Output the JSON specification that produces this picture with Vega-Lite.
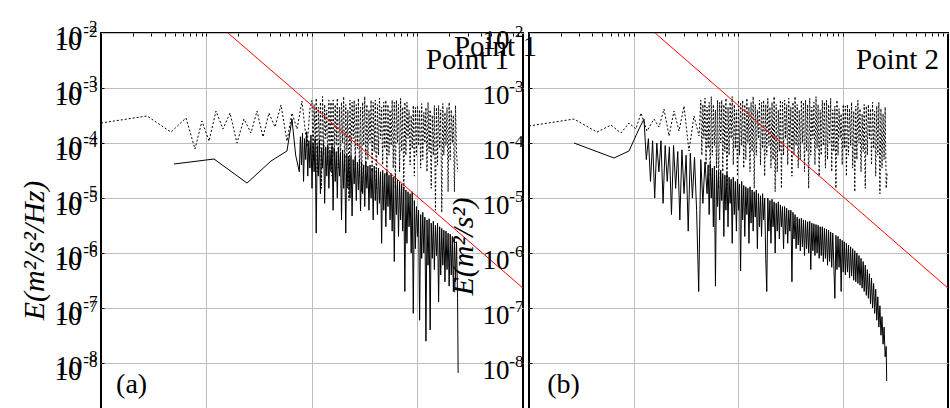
{
 "$schema": "https://vega.github.io/schema/vega-lite/v6.json",
 "background": "white",
 "padding": {"left": 18, "top": 16, "right": 0, "bottom": 0},
 "spacing": 6,
 "bounds": "flush",
 "config": {
  "font": "Liberation Serif",
  "view": {"stroke": "black", "strokeWidth": 2},
  "axis": {"gridColor": "#bdbdbd", "gridOpacity": 1, "gridWidth": 1, "domain": false, "ticks": false, "tickColor": "black", "labelColor": "black", "titleColor": "black", "labelFont": "Liberation Serif", "titleFont": "Liberation Serif", "labelFlush": false, "labelOverlap": false}
 },
 "datasets": {
  "p1d": [
   {"f":0.01,"E":2.31e-4},{"f":0.0273,"E":3.10e-4},{"f":0.0461,"E":1.58e-4},{"f":0.0639,"E":2.85e-4},{"f":0.0778,"E":7.78e-5},
   {"f":0.0906,"E":2.51e-4},{"f":0.1057,"E":1.08e-4},{"f":0.123,"E":3.82e-4},{"f":0.1433,"E":1.80e-4},{"f":0.1671,"E":3.51e-4},
   {"f":0.1945,"E":1.0e-4},{"f":0.2266,"E":2.73e-4},{"f":0.2641,"E":1.52e-4},{"f":0.3011,"E":3.82e-4},{"f":0.3433,"E":1.29e-4},
   {"f":0.3908,"E":3.51e-4},{"f":0.4457,"E":1.95e-4},{"f":0.5082,"E":4.91e-4},{"f":0.5794,"E":1.08e-4},{"f":0.6457,"E":3.51e-4},
   {"f":0.7211,"E":1.80e-4},{"f":0.8035,"E":5.81e-4},{"f":0.8974,"E":8.46e-5},{"f":0.955,"E":4.15e-4},
   {"f":1.000,"E":6e-4},{"f":1.023,"E":5e-5},{"f":1.047,"E":5e-4},{"f":1.072,"E":1e-4},{"f":1.096,"E":6.5e-4},{"f":1.122,"E":3e-5},
   {"f":1.148,"E":4.5e-4},{"f":1.175,"E":7e-5},{"f":1.202,"E":5.5e-4},{"f":1.230,"E":1.5e-5},{"f":1.259,"E":7e-4},{"f":1.288,"E":6e-5},
   {"f":1.318,"E":5e-4},{"f":1.349,"E":1.2e-4},{"f":1.380,"E":4e-4},{"f":1.413,"E":4e-5},{"f":1.445,"E":6e-4},{"f":1.479,"E":8e-5},
   {"f":1.514,"E":5.5e-4},{"f":1.549,"E":2.5e-5},{"f":1.585,"E":6e-4},{"f":1.622,"E":6e-5},{"f":1.660,"E":5e-4},{"f":1.698,"E":9e-5},
   {"f":1.738,"E":6.5e-4},{"f":1.778,"E":3.5e-5},{"f":1.820,"E":4.5e-4},{"f":1.862,"E":5e-5},{"f":1.905,"E":5.5e-4},{"f":1.950,"E":1e-4},
   {"f":1.995,"E":7e-4},{"f":2.042,"E":3e-5},{"f":2.089,"E":5e-4},{"f":2.138,"E":7e-5},{"f":2.188,"E":4e-4},{"f":2.239,"E":9e-6},
   {"f":2.291,"E":6e-4},{"f":2.344,"E":6e-5},{"f":2.399,"E":5.5e-4},{"f":2.455,"E":1.2e-4},{"f":2.512,"E":6e-4},{"f":2.570,"E":4e-5},
   {"f":2.630,"E":5e-4},{"f":2.692,"E":8e-5},{"f":2.754,"E":6.5e-4},{"f":2.818,"E":2.5e-5},{"f":2.884,"E":4.5e-4},{"f":2.951,"E":1.3e-5},
   {"f":3.020,"E":5.5e-4},{"f":3.090,"E":9e-5},{"f":3.162,"E":7e-4},{"f":3.236,"E":3.5e-5},{"f":3.311,"E":5e-4},{"f":3.388,"E":5e-5},
   {"f":3.467,"E":4e-4},{"f":3.548,"E":1e-4},{"f":3.631,"E":6e-4},{"f":3.715,"E":3e-5},{"f":3.802,"E":5.5e-4},{"f":3.890,"E":7e-5},
   {"f":3.981,"E":6e-4},{"f":4.074,"E":1.5e-5},{"f":4.169,"E":5e-4},{"f":4.266,"E":6e-5},{"f":4.365,"E":6.5e-4},{"f":4.467,"E":1.2e-4},
   {"f":4.571,"E":4.5e-4},{"f":4.677,"E":4e-5},{"f":4.786,"E":5.5e-4},{"f":4.898,"E":8e-5},{"f":5.012,"E":6e-4},{"f":5.129,"E":2.5e-5},
   {"f":5.248,"E":5e-4},{"f":5.370,"E":6e-5},{"f":5.495,"E":4e-4},{"f":5.623,"E":9e-5},{"f":5.754,"E":6e-4},{"f":5.888,"E":3.5e-5},
   {"f":6.026,"E":5.5e-4},{"f":6.166,"E":1.5e-5},{"f":6.310,"E":6e-4},{"f":6.457,"E":1e-4},{"f":6.607,"E":5e-4},{"f":6.761,"E":3e-5},
   {"f":6.918,"E":6.5e-4},{"f":7.079,"E":7e-5},{"f":7.244,"E":4.5e-4},{"f":7.413,"E":1.5e-5},{"f":7.586,"E":5.5e-4},{"f":7.762,"E":6e-5},
   {"f":7.943,"E":5.5e-4},{"f":8.128,"E":1.2e-4},{"f":8.318,"E":4e-4},{"f":8.511,"E":4e-5},{"f":8.710,"E":3.2e-4},{"f":8.913,"E":8e-5},
   {"f":9.120,"E":4.8e-4},{"f":9.333,"E":2.5e-5},{"f":9.550,"E":4.4e-4},{"f":9.772,"E":6e-5},{"f":10.00,"E":4.8e-4},{"f":10.23,"E":9e-5},
   {"f":10.47,"E":4e-4},{"f":10.72,"E":3.5e-5},{"f":10.96,"E":5.2e-4},{"f":11.22,"E":5e-5},{"f":11.48,"E":3.6e-4},{"f":11.75,"E":1e-4},
   {"f":12.02,"E":4.4e-4},{"f":12.30,"E":3e-5},{"f":12.59,"E":5.5e-4},{"f":12.88,"E":7e-5},{"f":13.18,"E":4e-4},{"f":13.49,"E":1.5e-5},
   {"f":13.80,"E":3.2e-4},{"f":14.13,"E":6e-5},{"f":14.45,"E":4.8e-4},{"f":14.79,"E":6e-6},{"f":15.14,"E":4.4e-4},{"f":15.49,"E":4e-5},
   {"f":15.85,"E":4.8e-4},{"f":16.22,"E":8e-5},{"f":16.60,"E":4e-4},{"f":16.98,"E":5.5e-6},{"f":17.38,"E":5.2e-4},{"f":17.78,"E":6e-5},
   {"f":18.20,"E":3.6e-4},{"f":18.62,"E":9e-5},{"f":19.05,"E":4.4e-4},{"f":19.50,"E":1.3e-5},{"f":19.95,"E":5.5e-4},{"f":20.42,"E":5e-5},
   {"f":20.89,"E":4e-4},{"f":21.38,"E":1e-4},{"f":21.88,"E":3.2e-4},{"f":22.39,"E":1.3e-5},{"f":22.91,"E":4.8e-4},{"f":23.44,"E":7e-5},
   {"f":23.99,"E":3e-5}
  ],
  "p1s": [
   {"f":0.0492,"E":4.15e-5},{"f":0.1178,"E":5.12e-5},{"f":0.2421,"E":1.87e-5},{"f":0.4087,"E":4.71e-5},{"f":0.5794,"E":7.16e-5},
   {"f":0.6457,"E":2.73e-4},{"f":0.700,"E":6e-5},
   {"f":0.7586,"E":3e-5},{"f":0.7762,"E":1.3e-4},{"f":0.7943,"E":4e-5},{"f":0.8128,"E":1.5e-4},{"f":0.8318,"E":2e-5},{"f":0.8511,"E":1.2e-4},
   {"f":0.8710,"E":5e-5},{"f":0.8913,"E":1.6e-4},{"f":0.9120,"E":2.5e-5},{"f":0.9333,"E":1.1e-4},{"f":0.9550,"E":3.5e-5},{"f":0.9772,"E":1.4e-4},
   {"f":1.000,"E":1.5e-5},{"f":1.023,"E":1e-4},{"f":1.047,"E":3e-5},{"f":1.072,"E":1.2e-4},{"f":1.096,"E":2.3e-6},{"f":1.122,"E":9e-5},
   {"f":1.148,"E":2.5e-5},{"f":1.175,"E":1.1e-4},{"f":1.202,"E":1.2e-5},{"f":1.230,"E":8e-5},{"f":1.259,"E":3.5e-5},{"f":1.288,"E":1e-4},
   {"f":1.318,"E":8e-6},{"f":1.349,"E":8.5e-5},{"f":1.380,"E":2.5e-5},{"f":1.413,"E":9e-5},{"f":1.445,"E":1.5e-5},{"f":1.479,"E":7.5e-5},
   {"f":1.514,"E":3e-5},{"f":1.549,"E":9e-5},{"f":1.585,"E":6e-6},{"f":1.622,"E":8e-5},{"f":1.660,"E":2e-5},{"f":1.698,"E":7e-5},
   {"f":1.738,"E":1e-5},{"f":1.778,"E":8e-5},{"f":1.820,"E":2.5e-5},{"f":1.862,"E":6.5e-5},{"f":1.905,"E":4e-6},{"f":1.950,"E":7.5e-5},
   {"f":1.995,"E":1.5e-5},{"f":2.042,"E":6e-5},{"f":2.089,"E":2.3e-6},{"f":2.138,"E":6.5e-5},{"f":2.188,"E":1.5e-5},{"f":2.239,"E":5.5e-5},
   {"f":2.291,"E":1e-5},{"f":2.344,"E":6e-5},{"f":2.399,"E":4.7e-6},{"f":2.455,"E":5e-5},{"f":2.512,"E":1.8e-5},{"f":2.570,"E":5.5e-5},
   {"f":2.630,"E":9e-6},{"f":2.692,"E":4.5e-5},{"f":2.754,"E":1.4e-5},{"f":2.818,"E":5e-5},{"f":2.884,"E":5.8e-6},{"f":2.951,"E":4.5e-5},
   {"f":3.020,"E":1.2e-5},{"f":3.090,"E":4e-5},{"f":3.162,"E":7e-6},{"f":3.236,"E":4.5e-5},{"f":3.311,"E":1.5e-5},{"f":3.388,"E":3.8e-5},
   {"f":3.467,"E":6e-6},{"f":3.548,"E":4e-5},{"f":3.631,"E":1e-5},{"f":3.715,"E":3.5e-5},{"f":3.802,"E":4e-6},{"f":3.890,"E":3.8e-5},
   {"f":3.981,"E":9e-6},{"f":4.074,"E":3.2e-5},{"f":4.169,"E":5e-6},{"f":4.266,"E":3.5e-5},{"f":4.365,"E":8e-6},{"f":4.467,"E":3e-5},
   {"f":4.571,"E":1.5e-6},{"f":4.677,"E":3.2e-5},{"f":4.786,"E":6e-6},{"f":4.898,"E":2.8e-5},{"f":5.012,"E":3e-6},{"f":5.129,"E":3e-5},
   {"f":5.248,"E":7e-6},{"f":5.370,"E":2.6e-5},{"f":5.495,"E":4e-6},{"f":5.623,"E":2.8e-5},{"f":5.754,"E":2.5e-6},{"f":5.888,"E":2.4e-5},
   {"f":6.026,"E":7e-7},{"f":6.166,"E":2.5e-5},{"f":6.310,"E":5e-6},{"f":6.457,"E":2.2e-5},{"f":6.607,"E":2e-6},{"f":6.761,"E":2e-5},
   {"f":6.918,"E":4e-6},{"f":7.079,"E":1.8e-5},{"f":7.244,"E":2.5e-6},{"f":7.413,"E":1.6e-5},{"f":7.586,"E":2e-7},{"f":7.762,"E":1.4e-5},
   {"f":7.943,"E":1.5e-6},{"f":8.128,"E":1.3e-5},{"f":8.318,"E":3e-6},{"f":8.511,"E":1.2e-5},{"f":8.710,"E":1e-6},{"f":8.913,"E":1.3e-5},
   {"f":9.120,"E":8e-8},{"f":9.333,"E":9e-6},{"f":9.550,"E":1.2e-6},{"f":9.772,"E":7e-6},{"f":10.00,"E":2e-6},{"f":10.23,"E":6e-6},
   {"f":10.47,"E":6e-8},{"f":10.72,"E":5e-6},{"f":10.96,"E":8e-7},{"f":11.22,"E":5.5e-6},{"f":11.48,"E":1e-6},{"f":11.75,"E":4.5e-6},
   {"f":12.02,"E":2.5e-8},{"f":12.30,"E":4e-6},{"f":12.59,"E":6e-7},{"f":12.88,"E":4.2e-6},{"f":13.18,"E":4e-8},{"f":13.49,"E":3.5e-6},
   {"f":13.80,"E":8e-7},{"f":14.13,"E":3.8e-6},{"f":14.45,"E":5e-7},{"f":14.79,"E":3.2e-6},{"f":15.14,"E":9e-7},{"f":15.49,"E":3.5e-6},
   {"f":15.85,"E":1.3e-7},{"f":16.22,"E":3e-6},{"f":16.60,"E":4e-7},{"f":16.98,"E":2.8e-6},{"f":17.38,"E":6e-7},{"f":17.78,"E":2.6e-6},
   {"f":18.20,"E":3e-7},{"f":18.62,"E":2.5e-6},{"f":19.05,"E":5e-7},{"f":19.50,"E":2.3e-6},{"f":19.95,"E":2.5e-7},{"f":20.42,"E":2.2e-6},
   {"f":20.89,"E":4e-7},{"f":21.38,"E":2e-6},{"f":21.88,"E":2e-7},{"f":22.39,"E":1.8e-6},{"f":22.91,"E":3e-7},{"f":23.44,"E":1.6e-6},
   {"f":23.99,"E":1.5e-7},{"f":24.27,"E":6.6e-9}
  ],
  "p2d": [
   {"f":0.01,"E":2.04e-4},{"f":0.0269,"E":2.73e-4},{"f":0.0446,"E":1.58e-4},{"f":0.0606,"E":2.12e-4},{"f":0.0755,"E":1.52e-4},
   {"f":0.0901,"E":2.31e-4},{"f":0.105,"E":1.80e-4},{"f":0.1173,"E":3.51e-4},{"f":0.1337,"E":1.65e-4},{"f":0.156,"E":2.73e-4},
   {"f":0.1742,"E":1.95e-4},{"f":0.1945,"E":4.15e-4},{"f":0.2172,"E":1.34e-4},{"f":0.2421,"E":3.82e-4},{"f":0.2704,"E":1.65e-4},
   {"f":0.302,"E":4.71e-4},{"f":0.3365,"E":7.16e-5},{"f":0.3758,"E":3.10e-4},{"f":0.4198,"E":1.34e-4},
   {"f":0.4365,"E":6e-4},{"f":0.4467,"E":6e-5},{"f":0.4571,"E":5e-4},{"f":0.4677,"E":1.2e-4},{"f":0.4786,"E":6.5e-4},{"f":0.4898,"E":4e-5},
   {"f":0.5012,"E":4.5e-4},{"f":0.5129,"E":8e-5},{"f":0.5248,"E":5.5e-4},{"f":0.5370,"E":2.5e-5},{"f":0.5495,"E":7e-4},{"f":0.5623,"E":6e-5},
   {"f":0.5754,"E":5e-4},{"f":0.5888,"E":9e-5},{"f":0.6026,"E":4e-4},{"f":0.6166,"E":3.5e-5},{"f":0.6310,"E":6e-4},{"f":0.6457,"E":1.5e-5},
   {"f":0.6607,"E":5.5e-4},{"f":0.6761,"E":1e-4},{"f":0.6918,"E":6e-4},{"f":0.7079,"E":3e-5},{"f":0.7244,"E":5e-4},{"f":0.7413,"E":7e-5},
   {"f":0.7586,"E":6.5e-4},{"f":0.7762,"E":1.5e-5},{"f":0.7943,"E":4.5e-4},{"f":0.8128,"E":6e-5},{"f":0.8318,"E":5.5e-4},{"f":0.8511,"E":1.2e-4},
   {"f":0.8710,"E":7e-4},{"f":0.8913,"E":4e-5},{"f":0.9120,"E":5e-4},{"f":0.9333,"E":8e-5},{"f":0.9550,"E":4e-4},{"f":0.9772,"E":2.5e-5},
   {"f":1.000,"E":6e-4},{"f":1.023,"E":6e-5},{"f":1.047,"E":5.5e-4},{"f":1.072,"E":9e-5},{"f":1.096,"E":6e-4},{"f":1.122,"E":3.5e-5},
   {"f":1.148,"E":5e-4},{"f":1.175,"E":5e-5},{"f":1.202,"E":6.5e-4},{"f":1.230,"E":1e-4},{"f":1.259,"E":4.5e-4},{"f":1.288,"E":3e-5},
   {"f":1.318,"E":5.5e-4},{"f":1.349,"E":7e-5},{"f":1.380,"E":7e-4},{"f":1.413,"E":1.5e-5},{"f":1.445,"E":5e-4},{"f":1.479,"E":6e-5},
   {"f":1.514,"E":4e-4},{"f":1.549,"E":1.2e-4},{"f":1.585,"E":6e-4},{"f":1.622,"E":4e-5},{"f":1.660,"E":5.5e-4},{"f":1.698,"E":8e-5},
   {"f":1.738,"E":6e-4},{"f":1.778,"E":2.5e-5},{"f":1.820,"E":5e-4},{"f":1.862,"E":6e-5},{"f":1.905,"E":6.5e-4},{"f":1.950,"E":9e-5},
   {"f":1.995,"E":4.5e-4},{"f":2.042,"E":3.5e-5},{"f":2.089,"E":5.5e-4},{"f":2.138,"E":5e-5},{"f":2.188,"E":7e-4},{"f":2.239,"E":1.3e-5},
   {"f":2.291,"E":5e-4},{"f":2.344,"E":3e-5},{"f":2.399,"E":4e-4},{"f":2.455,"E":7e-5},{"f":2.512,"E":6e-4},{"f":2.570,"E":1.5e-5},
   {"f":2.630,"E":5.5e-4},{"f":2.692,"E":6e-5},{"f":2.754,"E":6e-4},{"f":2.818,"E":1.2e-4},{"f":2.884,"E":5e-4},{"f":2.951,"E":4e-5},
   {"f":3.020,"E":6.5e-4},{"f":3.090,"E":8e-5},{"f":3.162,"E":4.5e-4},{"f":3.236,"E":2.5e-5},{"f":3.311,"E":5.5e-4},{"f":3.388,"E":6e-5},
   {"f":3.467,"E":7e-4},{"f":3.548,"E":9e-5},{"f":3.631,"E":5e-4},{"f":3.715,"E":3.5e-5},{"f":3.802,"E":4e-4},{"f":3.890,"E":5e-5},
   {"f":3.981,"E":6e-4},{"f":4.074,"E":1e-4},{"f":4.169,"E":5.5e-4},{"f":4.266,"E":3e-5},{"f":4.365,"E":6e-4},{"f":4.467,"E":7e-5},
   {"f":4.571,"E":5e-4},{"f":4.677,"E":1.5e-5},{"f":4.786,"E":6.5e-4},{"f":4.898,"E":6e-5},{"f":5.012,"E":4.5e-4},{"f":5.129,"E":1.2e-4},
   {"f":5.248,"E":5.5e-4},{"f":5.370,"E":4e-5},{"f":5.495,"E":7e-4},{"f":5.623,"E":8e-5},{"f":5.754,"E":5e-4},{"f":5.888,"E":2.5e-5},
   {"f":6.026,"E":4e-4},{"f":6.166,"E":6e-5},{"f":6.310,"E":6e-4},{"f":6.457,"E":9e-5},{"f":6.607,"E":5.5e-4},{"f":6.761,"E":3.5e-5},
   {"f":6.918,"E":6e-4},{"f":7.079,"E":5e-5},{"f":7.244,"E":5e-4},{"f":7.413,"E":1e-4},{"f":7.586,"E":6.5e-4},{"f":7.762,"E":3e-5},
   {"f":7.943,"E":4e-4},{"f":8.128,"E":7e-5},{"f":8.318,"E":4.7e-4},{"f":8.511,"E":1.5e-5},{"f":8.710,"E":6e-4},{"f":8.913,"E":6e-5},
   {"f":9.120,"E":4.2e-4},{"f":9.333,"E":1.2e-4},{"f":9.550,"E":3.4e-4},{"f":9.772,"E":4e-5},{"f":10.00,"E":5e-4},{"f":10.23,"E":8e-5},
   {"f":10.47,"E":4.7e-4},{"f":10.72,"E":2.5e-5},{"f":10.96,"E":5e-4},{"f":11.22,"E":6e-5},{"f":11.48,"E":4.2e-4},{"f":11.75,"E":9e-5},
   {"f":12.02,"E":5.5e-4},{"f":12.30,"E":3.5e-5},{"f":12.59,"E":3.8e-4},{"f":12.88,"E":1.3e-5},{"f":13.18,"E":4.7e-4},{"f":13.49,"E":5e-5},
   {"f":13.80,"E":6e-4},{"f":14.13,"E":1e-4},{"f":14.45,"E":4.2e-4},{"f":14.79,"E":3e-5},{"f":15.14,"E":3.4e-4},{"f":15.49,"E":7e-5},
   {"f":15.85,"E":5e-4},{"f":16.22,"E":1.5e-5},{"f":16.60,"E":4.7e-4},{"f":16.98,"E":6e-5},{"f":17.38,"E":5e-4},{"f":17.78,"E":1.2e-4},
   {"f":18.20,"E":4.2e-4},{"f":18.62,"E":4e-5},{"f":19.05,"E":5.5e-4},{"f":19.50,"E":8e-5},{"f":19.95,"E":3.8e-4},{"f":20.42,"E":2.5e-5},
   {"f":20.89,"E":4.7e-4},{"f":21.38,"E":6e-5},{"f":21.88,"E":5.5e-4},{"f":22.39,"E":1.2e-5},{"f":22.91,"E":4.2e-4},{"f":23.44,"E":3.5e-5},
   {"f":23.99,"E":3.4e-4},{"f":24.55,"E":5e-5},{"f":25.12,"E":4.5e-4},{"f":25.70,"E":1.5e-5},{"f":26.30,"E":3e-5}
  ],
  "p2s": [
   {"f":0.0269,"E":1.0e-4},{"f":0.0648,"E":5.34e-5},{"f":0.0901,"E":7.16e-5},{"f":0.1122,"E":1.80e-4},{"f":0.1253,"E":2.73e-4},
   {"f":0.1318,"E":5e-5},{"f":0.1380,"E":1.2e-4},{"f":0.1445,"E":2e-5},{"f":0.1514,"E":1.1e-4},{"f":0.1585,"E":1e-5},{"f":0.1660,"E":1e-4},
   {"f":0.1738,"E":3e-5},{"f":0.1820,"E":1.1e-4},{"f":0.1905,"E":8e-6},{"f":0.1995,"E":9e-5},{"f":0.2089,"E":2e-5},{"f":0.2188,"E":8.5e-5},
   {"f":0.2291,"E":5e-6},{"f":0.2399,"E":9e-5},{"f":0.2512,"E":1.5e-5},{"f":0.2630,"E":7e-5},{"f":0.2754,"E":4e-6},{"f":0.2884,"E":7.5e-5},
   {"f":0.3020,"E":1.2e-5},{"f":0.3162,"E":6e-5},{"f":0.3311,"E":2.5e-6},{"f":0.3467,"E":6.5e-5},{"f":0.3631,"E":1e-5},{"f":0.3802,"E":5.5e-5},
   {"f":0.3981,"E":6e-6},{"f":0.4169,"E":2e-7},{"f":0.4365,"E":5e-5},{"f":0.4571,"E":8e-6},{"f":0.4786,"E":4.5e-5},{"f":0.5012,"E":1.2e-5},
   {"f":0.5129,"E":4e-5},{"f":0.5248,"E":5e-6},{"f":0.5370,"E":4.2e-5},{"f":0.5495,"E":1e-5},{"f":0.5623,"E":3.5e-5},{"f":0.5754,"E":3e-6},
   {"f":0.5888,"E":3.8e-5},{"f":0.6026,"E":2.5e-7},{"f":0.6166,"E":3.2e-5},{"f":0.6310,"E":7e-6},{"f":0.6457,"E":3e-5},{"f":0.6607,"E":4e-6},
   {"f":0.6761,"E":3.2e-5},{"f":0.6918,"E":9e-6},{"f":0.7079,"E":2.8e-5},{"f":0.7244,"E":2e-6},{"f":0.7413,"E":2.6e-5},{"f":0.7586,"E":6e-6},
   {"f":0.7762,"E":2.8e-5},{"f":0.7943,"E":3e-6},{"f":0.8128,"E":2.4e-5},{"f":0.8318,"E":8e-6},{"f":0.8511,"E":2.2e-5},{"f":0.8710,"E":1.5e-6},
   {"f":0.8913,"E":2.4e-5},{"f":0.9120,"E":5e-6},{"f":0.9333,"E":2e-5},{"f":0.9550,"E":2.5e-6},{"f":0.9772,"E":2.2e-5},{"f":1.000,"E":6e-6},
   {"f":1.023,"E":1.8e-5},{"f":1.047,"E":4.7e-7},{"f":1.072,"E":2e-5},{"f":1.096,"E":4e-6},{"f":1.122,"E":1.7e-5},{"f":1.148,"E":2e-6},
   {"f":1.175,"E":1.6e-5},{"f":1.202,"E":5e-6},{"f":1.230,"E":1.5e-5},{"f":1.259,"E":1.5e-6},{"f":1.288,"E":1.6e-5},{"f":1.318,"E":3.5e-6},
   {"f":1.349,"E":1.4e-5},{"f":1.380,"E":2.5e-6},{"f":1.413,"E":1.3e-5},{"f":1.445,"E":4.5e-6},{"f":1.479,"E":1.4e-5},{"f":1.514,"E":1.2e-6},
   {"f":1.549,"E":1.2e-5},{"f":1.585,"E":3e-6},{"f":1.622,"E":1.1e-5},{"f":1.660,"E":2e-6},{"f":1.698,"E":1.2e-5},{"f":1.738,"E":4e-6},
   {"f":1.778,"E":1e-5},{"f":1.820,"E":8e-7},{"f":1.862,"E":2e-7},{"f":1.905,"E":1e-5},{"f":1.950,"E":2.5e-6},{"f":1.995,"E":9e-6},
   {"f":2.042,"E":1.5e-6},{"f":2.089,"E":9.5e-6},{"f":2.138,"E":3e-6},{"f":2.188,"E":8.5e-6},{"f":2.239,"E":1e-6},{"f":2.291,"E":8e-6},
   {"f":2.344,"E":2.5e-6},{"f":2.399,"E":8.5e-6},{"f":2.455,"E":1.8e-6},{"f":2.512,"E":7.5e-6},{"f":2.570,"E":3e-6},{"f":2.630,"E":7e-6},
   {"f":2.692,"E":1.2e-6},{"f":2.754,"E":7e-6},{"f":2.818,"E":2.2e-6},{"f":2.884,"E":6.5e-6},{"f":2.951,"E":1.5e-6},{"f":3.020,"E":6e-6},
   {"f":3.090,"E":2.5e-6},{"f":3.162,"E":6e-6},{"f":3.236,"E":3e-7},{"f":3.311,"E":5.5e-6},{"f":3.388,"E":1.8e-6},{"f":3.467,"E":5e-6},
   {"f":3.548,"E":1.2e-6},{"f":3.631,"E":4.5e-6},{"f":3.715,"E":1.4e-6},{"f":3.802,"E":4.2e-6},{"f":3.890,"E":1.1e-6},{"f":3.981,"E":4.3e-6},
   {"f":4.074,"E":1.3e-6},{"f":4.169,"E":4e-6},{"f":4.266,"E":9e-7},{"f":4.365,"E":3.9e-6},{"f":4.467,"E":1.2e-6},{"f":4.571,"E":3.7e-6},
   {"f":4.677,"E":1e-6},{"f":4.786,"E":3.8e-6},{"f":4.898,"E":5e-7},{"f":5.012,"E":3.5e-6},{"f":5.129,"E":1.1e-6},{"f":5.248,"E":3.4e-6},
   {"f":5.370,"E":9e-7},{"f":5.495,"E":3.3e-6},{"f":5.623,"E":1e-6},{"f":5.754,"E":3.2e-6},{"f":5.888,"E":8e-7},{"f":6.026,"E":3e-6},
   {"f":6.166,"E":9e-7},{"f":6.310,"E":3e-6},{"f":6.457,"E":7e-7},{"f":6.607,"E":2.8e-6},{"f":6.761,"E":8e-7},{"f":6.918,"E":2.7e-6},
   {"f":7.079,"E":6e-7},{"f":7.244,"E":2.6e-6},{"f":7.413,"E":7e-7},{"f":7.586,"E":2.4e-6},{"f":7.762,"E":5.5e-7},{"f":7.943,"E":2.3e-6},
   {"f":8.128,"E":6e-7},{"f":8.318,"E":1.5e-7},{"f":8.511,"E":2.1e-6},{"f":8.710,"E":5e-7},{"f":8.913,"E":2e-6},{"f":9.120,"E":5.5e-7},
   {"f":9.333,"E":1.8e-6},{"f":9.550,"E":2e-7},{"f":9.772,"E":1.7e-6},{"f":10.00,"E":4.5e-7},{"f":10.23,"E":1.6e-6},{"f":10.47,"E":4e-7},
   {"f":10.72,"E":1.5e-6},{"f":10.96,"E":4.5e-7},{"f":11.22,"E":1.4e-6},{"f":11.48,"E":3.5e-7},{"f":11.75,"E":1.3e-6},{"f":12.02,"E":3.8e-7},
   {"f":12.30,"E":1.2e-6},{"f":12.59,"E":3.2e-7},{"f":12.88,"E":1.1e-6},{"f":13.18,"E":3e-7},{"f":13.49,"E":1e-6},{"f":13.80,"E":2.8e-7},
   {"f":14.13,"E":9e-7},{"f":14.45,"E":2.6e-7},{"f":14.79,"E":8e-7},{"f":15.14,"E":2.3e-7},{"f":15.49,"E":7e-7},{"f":15.85,"E":2e-7},
   {"f":16.22,"E":6e-7},{"f":16.60,"E":1.7e-7},{"f":16.98,"E":5e-7},{"f":17.38,"E":1.5e-7},{"f":17.78,"E":4.2e-7},{"f":18.20,"E":1.2e-7},
   {"f":18.62,"E":3.5e-7},{"f":19.05,"E":1e-7},{"f":19.50,"E":2.8e-7},{"f":19.95,"E":8e-8},{"f":20.42,"E":2.2e-7},{"f":20.89,"E":6e-8},
   {"f":21.38,"E":1.6e-7},{"f":21.88,"E":4.5e-8},{"f":22.39,"E":1.1e-7},{"f":22.91,"E":3.2e-8},{"f":23.44,"E":7e-8},{"f":23.99,"E":2.2e-8},
   {"f":24.55,"E":4.5e-8},{"f":25.12,"E":1.3e-8},{"f":25.70,"E":2e-8},{"f":26.00,"E":4.7e-9}
  ],
  "red": [{"f":0.16,"E":1.0e-2},{"f":100,"E":2.3e-7}],
  "t1": [{"f":73.6,"E":2.21e-3,"t":"Point 1"}],
  "ta": [{"f":0.0139,"E":2.85e-9,"t":"(a)"}],
  "t2": [{"f":82.0,"E":2.21e-3,"t":"Point 2"},{"f":0.0119,"E":3.82e-3,"t":"Point 1"}],
  "tb": [{"f":0.0149,"E":2.85e-9,"t":"(b)"}]
 },
 "hconcat": [
  {
   "width": 422, "height": 376,
   "layer": [
    {"data": {"name": "p1d"}, "mark": {"type": "line", "color": "black", "strokeWidth": 1, "strokeDash": [2, 2], "clip": true},
     "encoding": {
      "x": {"field": "f", "type": "quantitative", "scale": {"type": "log", "domain": [0.01, 100], "nice": false}, "axis": {"orient": "bottom", "values": [0.1, 1, 10], "labels": false, "title": null, "grid": true}},
      "y": {"field": "E", "type": "quantitative", "scale": {"type": "log", "domain": [1.46e-9, 0.01], "nice": false},
      "axis": {"orient": "left", "values": [1e-8, 1e-7, 1e-6, 1e-5, 1e-4, 1e-3, 1e-2], "grid": true, "labelExpr": "'10'", "labelFontSize": 27, "labelPadding": 19, "labelBaseline": "middle", "labelOffset": 3,
       "title": "E(m²/s²/Hz)", "titleFontSize": 30, "titleFontStyle": "italic", "titleFontWeight": "normal", "titlePadding": 6, "titleY": 217}}}},
    {"data": {"name": "p1s"}, "mark": {"type": "line", "color": "black", "strokeWidth": 1, "clip": true},
     "encoding": {
      "x": {"field": "f", "type": "quantitative", "scale": {"type": "log", "domain": [0.01, 100], "nice": false}, "axis": null},
      "y": {"field": "E", "type": "quantitative", "scale": {"type": "log", "domain": [1.46e-9, 0.01], "nice": false},
      "axis": {"orient": "left", "values": [1e-8, 1e-7, 1e-6, 1e-5, 1e-4, 1e-3, 1e-2], "grid": false, "labelExpr": "'10'", "labelFontSize": 27, "labelPadding": 20, "labelBaseline": "middle", "labelOffset": 8, "title": null}}}},
    {"data": {"name": "red"}, "mark": {"type": "line", "color": "#ff0000", "strokeWidth": 1, "clip": true},
     "encoding": {
      "x": {"field": "f", "type": "quantitative", "scale": {"type": "log", "domain": [0.01, 100], "nice": false}, "axis": null},
      "y": {"field": "E", "type": "quantitative", "scale": {"type": "log", "domain": [1.46e-9, 0.01], "nice": false},
      "axis": {"orient": "left", "values": [1e-8, 1e-7, 1e-6, 1e-5, 1e-4, 1e-3, 1e-2], "grid": false, "labelExpr": "'' + round(log(datum.value) / LN10)", "labelFontSize": 17, "labelPadding": 4, "labelBaseline": "middle", "labelOffset": -7, "title": null}}}},
    {"data": {"name": "t1"}, "mark": {"type": "text", "align": "right", "baseline": "alphabetic", "fontSize": 29, "font": "Liberation Serif", "color": "black"},
     "encoding": {"text": {"field": "t"},
      "x": {"field": "f", "type": "quantitative", "scale": {"type": "log", "domain": [0.01, 100], "nice": false}, "axis": null},
      "y": {"field": "E", "type": "quantitative", "scale": {"type": "log", "domain": [1.46e-9, 0.01], "nice": false},
      "axis": {"orient": "left", "values": [1e-8, 1e-7, 1e-6, 1e-5, 1e-4, 1e-3, 1e-2], "grid": false, "labelExpr": "'' + round(log(datum.value) / LN10)", "labelFontSize": 17, "labelPadding": 4, "labelBaseline": "middle", "labelOffset": -2, "title": null}}}},
    {"data": {"name": "ta"}, "mark": {"type": "text", "align": "left", "baseline": "alphabetic", "fontSize": 28, "font": "Liberation Serif", "color": "black"},
     "encoding": {"text": {"field": "t"},
      "x": {"field": "f", "type": "quantitative", "scale": {"type": "log", "domain": [0.01, 100], "nice": false},
       "axis": {"orient": "top", "values": [0.02,0.03,0.04,0.05,0.06,0.07,0.08,0.09,0.1,0.2,0.3,0.4,0.5,0.6,0.7,0.8,0.9,1,2,3,4,5,6,7,8,9,10,20,30,40,50,60,70,80,90], "labels": false, "ticks": true, "tickSize": -3, "grid": false, "title": null}},
      "y": {"field": "E", "type": "quantitative", "scale": {"type": "log", "domain": [1.46e-9, 0.01], "nice": false},
       "axis": {"orient": "left", "values": [1e-8, 1e-7, 1e-6, 1e-5, 1e-4, 1e-3], "labels": false, "ticks": true, "tickSize": -3, "grid": false, "title": null}}}}
   ],
   "resolve": {"axis": {"x": "independent", "y": "independent"}}
  },
  {
   "width": 419, "height": 376,
   "layer": [
    {"data": {"name": "p2d"}, "mark": {"type": "line", "color": "black", "strokeWidth": 1, "strokeDash": [2, 2], "clip": true},
     "encoding": {
      "x": {"field": "f", "type": "quantitative", "scale": {"type": "log", "domain": [0.01, 100], "nice": false}, "axis": {"orient": "bottom", "values": [0.1, 1, 10], "labels": false, "title": null, "grid": true}},
      "y": {"field": "E", "type": "quantitative", "scale": {"type": "log", "domain": [1.46e-9, 0.01], "nice": false},
      "axis": {"orient": "left", "values": [1e-8, 1e-7, 1e-6, 1e-5, 1e-4, 1e-3, 1e-2], "grid": true, "labelExpr": "'10'", "labelFontSize": 27, "labelPadding": 20, "labelBaseline": "middle", "labelOffset": 7,
       "title": "E(m²/s²)", "titleFontSize": 30, "titleFontStyle": "italic", "titleFontWeight": "normal", "titlePadding": 4, "titleY": 213}}}},
    {"data": {"name": "p2s"}, "mark": {"type": "line", "color": "black", "strokeWidth": 1, "clip": true},
     "encoding": {
      "x": {"field": "f", "type": "quantitative", "scale": {"type": "log", "domain": [0.01, 100], "nice": false}, "axis": null},
      "y": {"field": "E", "type": "quantitative", "scale": {"type": "log", "domain": [1.46e-9, 0.01], "nice": false},
      "axis": {"orient": "left", "values": [1e-8, 1e-7, 1e-6, 1e-5, 1e-4, 1e-3, 1e-2], "grid": false, "labelExpr": "'' + round(log(datum.value) / LN10)", "labelFontSize": 17, "labelPadding": 6, "labelBaseline": "middle", "labelOffset": -2, "title": null}}}},
    {"data": {"name": "red"}, "mark": {"type": "line", "color": "#ff0000", "strokeWidth": 1, "clip": true},
     "encoding": {
      "x": {"field": "f", "type": "quantitative", "scale": {"type": "log", "domain": [0.01, 100], "nice": false}, "axis": null},
      "y": {"field": "E", "type": "quantitative", "scale": {"type": "log", "domain": [1.46e-9, 0.01], "nice": false}, "axis": null}}},
    {"data": {"name": "t2"}, "mark": {"type": "text", "align": "right", "baseline": "alphabetic", "fontSize": 29, "font": "Liberation Serif", "color": "black"},
     "encoding": {"text": {"field": "t"},
      "x": {"field": "f", "type": "quantitative", "scale": {"type": "log", "domain": [0.01, 100], "nice": false}, "axis": null},
      "y": {"field": "E", "type": "quantitative", "scale": {"type": "log", "domain": [1.46e-9, 0.01], "nice": false}, "axis": null}}},
    {"data": {"name": "tb"}, "mark": {"type": "text", "align": "left", "baseline": "alphabetic", "fontSize": 28, "font": "Liberation Serif", "color": "black"},
     "encoding": {"text": {"field": "t"},
      "x": {"field": "f", "type": "quantitative", "scale": {"type": "log", "domain": [0.01, 100], "nice": false},
       "axis": {"orient": "top", "values": [0.02,0.03,0.04,0.05,0.06,0.07,0.08,0.09,0.1,0.2,0.3,0.4,0.5,0.6,0.7,0.8,0.9,1,2,3,4,5,6,7,8,9,10,20,30,40,50,60,70,80,90], "labels": false, "ticks": true, "tickSize": -3, "grid": false, "title": null}},
      "y": {"field": "E", "type": "quantitative", "scale": {"type": "log", "domain": [1.46e-9, 0.01], "nice": false},
       "axis": {"orient": "left", "values": [1e-8, 1e-7, 1e-6, 1e-5, 1e-4, 1e-3], "labels": false, "ticks": true, "tickSize": -3, "grid": false, "title": null}}}}
   ],
   "resolve": {"axis": {"x": "independent", "y": "independent"}}
  }
 ]
}
